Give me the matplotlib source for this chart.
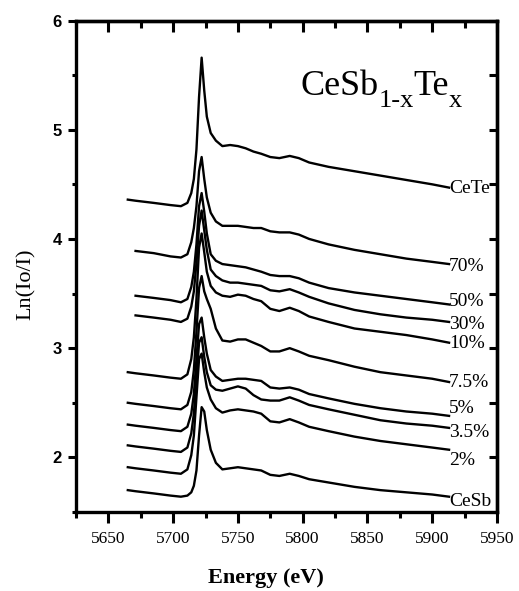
import numpy as np
import matplotlib.pyplot as plt

nan = np.nan

# energy grid (eV), shared by every spectrum
energy = [5665, 5671, 5685, 5698, 5706, 5711, 5714, 5716, 5718, 5720, 5722,
          5724, 5726, 5729, 5733, 5738, 5744, 5750, 5756, 5762, 5768, 5775,
          5782, 5790, 5797, 5805, 5820, 5840, 5860, 5880, 5900, 5913]

cete = [4.36, 4.35, 4.33, 4.31, 4.30, 4.33, 4.42, 4.55, 4.82, 5.30, 5.66,
        5.36, 5.12, 4.97, 4.90, 4.85, 4.86, 4.85, 4.83, 4.80, 4.78, 4.75,
        4.74, 4.76, 4.74, 4.70, 4.66, 4.62, 4.58, 4.54, 4.50, 4.47]
te70 = [nan, 3.89, 3.87, 3.84, 3.83, 3.86, 3.97, 4.10, 4.30, 4.62, 4.75,
        4.55, 4.38, 4.24, 4.16, 4.12, 4.12, 4.12, 4.11, 4.10, 4.10, 4.07,
        4.06, 4.06, 4.04, 4.00, 3.95, 3.90, 3.86, 3.82, 3.79, 3.77]
te50 = [nan, 3.48, 3.46, 3.44, 3.42, 3.45, 3.56, 3.70, 3.95, 4.30, 4.42,
        4.25, 4.05, 3.86, 3.80, 3.77, 3.76, 3.75, 3.74, 3.72, 3.70, 3.67,
        3.66, 3.66, 3.64, 3.60, 3.55, 3.51, 3.48, 3.45, 3.42, 3.40]
te30 = [nan, 3.30, 3.28, 3.26, 3.24, 3.27, 3.38, 3.52, 3.78, 4.12, 4.26,
        4.08, 3.90, 3.72, 3.66, 3.62, 3.60, 3.60, 3.59, 3.58, 3.57, 3.53,
        3.52, 3.54, 3.51, 3.47, 3.41, 3.35, 3.31, 3.28, 3.26, 3.24]
te10 = [2.78, 2.77, 2.75, 2.73, 2.72, 2.76, 2.90, 3.10, 3.45, 3.92, 4.05,
        3.88, 3.70, 3.57, 3.51, 3.48, 3.47, 3.49, 3.48, 3.45, 3.43, 3.36,
        3.34, 3.37, 3.34, 3.29, 3.24, 3.18, 3.15, 3.12, 3.08, 3.05]
te75 = [2.50, 2.49, 2.47, 2.45, 2.44, 2.48, 2.60, 2.80, 3.15, 3.55, 3.66,
        3.52, 3.45, 3.36, 3.18, 3.07, 3.06, 3.08, 3.08, 3.05, 3.02, 2.97,
        2.97, 3.00, 2.97, 2.93, 2.89, 2.83, 2.78, 2.75, 2.72, 2.69]
te5 = [2.30, 2.29, 2.27, 2.25, 2.24, 2.28, 2.40, 2.58, 2.90, 3.22, 3.28,
       3.10, 2.95, 2.80, 2.74, 2.70, 2.71, 2.72, 2.72, 2.71, 2.70, 2.64,
       2.63, 2.64, 2.62, 2.58, 2.54, 2.49, 2.45, 2.42, 2.40, 2.38]
te35 = [2.11, 2.10, 2.08, 2.06, 2.05, 2.09, 2.22, 2.40, 2.72, 3.05, 3.10,
        2.92, 2.78, 2.66, 2.62, 2.61, 2.63, 2.65, 2.63, 2.57, 2.53, 2.52,
        2.52, 2.55, 2.52, 2.48, 2.44, 2.39, 2.34, 2.31, 2.29, 2.27]
te2 = [1.91, 1.90, 1.88, 1.86, 1.85, 1.89, 2.02, 2.20, 2.55, 2.90, 2.95,
       2.78, 2.64, 2.53, 2.45, 2.41, 2.43, 2.44, 2.43, 2.42, 2.40, 2.33,
       2.32, 2.35, 2.32, 2.28, 2.24, 2.19, 2.15, 2.12, 2.09, 2.07]
cesb = [1.70, 1.69, 1.67, 1.65, 1.64, 1.65, 1.68, 1.74, 1.88, 2.20, 2.46,
        2.42, 2.25, 2.07, 1.95, 1.89, 1.90, 1.91, 1.90, 1.89, 1.88, 1.84,
        1.83, 1.85, 1.83, 1.80, 1.77, 1.73, 1.70, 1.68, 1.66, 1.64]

spectra = [cete, te70, te50, te30, te10, te75, te5, te35, te2, cesb]
names = ['CeTe', '70%', '50%', '30%', '10%', '7.5%', '5%', '3.5%', '2%', 'CeSb']
name_y = [4.46, 3.75, 3.43, 3.22, 3.04, 2.69, 2.45, 2.23, 1.97, 1.60]

x_major = [5650, 5700, 5750, 5800, 5850, 5900, 5950]
x_minor = [5625, 5675, 5725, 5775, 5825, 5875, 5925]
y_major = [2, 3, 4, 5, 6]
y_minor = [1.5, 2.5, 3.5, 4.5, 5.5]

serif = 'Liberation Serif'

fig = plt.figure(figsize=(5.19, 5.91), dpi=100)
ax = fig.add_axes([0.1464, 0.1337, 0.8112, 0.8316])

for vals in spectra:
    ax.plot(energy, vals, color='black', lw=1.7)

for name, y in zip(names, name_y):
    ax.text(5913, y, name, fontsize=14, family=serif, ha='left', va='center')

ax.set_xlim(5625, 5950)
ax.set_ylim(1.5, 6)
ax.set_xticks(x_major)
ax.set_xticks(x_minor, minor=True)
ax.set_yticks(y_major)
ax.set_yticks(y_minor, minor=True)
ax.set_xticklabels([str(v) for v in x_major], family=serif, fontsize=12.5)
ax.set_yticklabels([str(v) for v in y_major], family='Liberation Sans',
                   fontsize=12, fontweight='bold')

for sp in ax.spines.values():
    sp.set_linewidth(2.4)

ax.tick_params(axis='x', which='major', direction='out', length=8, width=2.2, pad=6)
ax.tick_params(axis='x', which='minor', direction='out', length=4, width=2.2)
ax.tick_params(axis='y', which='major', direction='out', length=6, width=2.2, pad=4)
ax.tick_params(axis='y', which='minor', direction='out', length=3, width=2.2)

top = ax.secondary_xaxis('top')
top.set_xticks(x_major)
top.set_xticks(x_minor, minor=True)
top.tick_params(which='major', direction='in', length=8, width=2.2, labeltop=False)
top.tick_params(which='minor', direction='in', length=5, width=2.2)
top.spines['top'].set_linewidth(2.4)

right = ax.secondary_yaxis('right')
right.set_yticks(y_major)
right.set_yticks(y_minor, minor=True)
right.tick_params(which='both', direction='in', length=6, width=2.2, labelright=False)
right.spines['right'].set_linewidth(2.4)

# formula label built piece by piece so the subscripts sit low like the original
W, H = fig.bbox.width, fig.bbox.height
renderer = fig.canvas.get_renderer()
px, py = ax.transData.transform((5798, 5.32))
pieces = [('CeSb', 26, 0), ('1-x', 19, -12), ('Te', 26, 0), ('x', 19, -12)]
for txt, size, drop in pieces:
    t = fig.text(px / W, (py + drop) / H, txt, fontsize=size, family=serif,
                 ha='left', va='baseline')
    px = t.get_window_extent(renderer).x1

fig.text(266 / 519, 1 - 578 / 591, 'Energy (eV)', fontsize=16, fontweight='bold',
         family=serif, ha='center', va='center')
fig.text(26 / 519, 1 - 284 / 591, 'Ln(Io/I)', fontsize=16,
         family=serif, ha='center', va='center', rotation=90)

fig.savefig('out.png', dpi=100)
